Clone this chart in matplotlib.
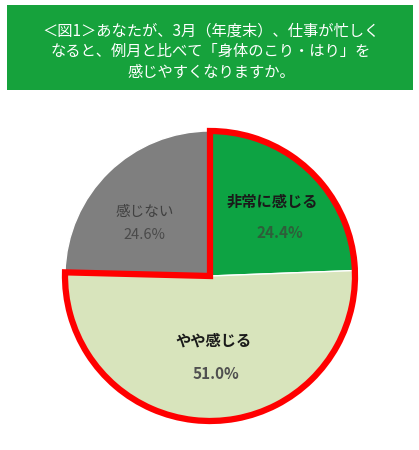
import numpy as np
import matplotlib.pyplot as plt
from matplotlib.patches import Wedge, Rectangle

plt.rcParams['font.family'] = ['Noto Sans CJK JP', 'DejaVu Sans']

title_lines = ['＜図1＞あなたが、3月（年度末）、仕事が忙しく',
               'なると、例月と比べて「身体のこり・はり」を',
               '感じやすくなりますか。']
labels = ['非常に感じる', 'やや感じる', '感じない']
values = [24.4, 51.0, 24.6]
colors = ['#0DA343', '#D8E4BC', '#7F7F7F']

W, H = 419, 450
fig = plt.figure(figsize=(W / 100, H / 100), dpi=100)
ax = fig.add_axes([0, 0, 1, 1])

# title box
ax.add_patch(Rectangle((7, H - 90), 406, 85, fc='#16A23C', ec='none'))
for i, line in enumerate(title_lines):
    ax.text(211, H - 31 - i * 20.5, line, color='white', fontsize=11,
            ha='center', va='center')

cx, cy, r = 210, H - 276, 145
ax.pie(values, colors=colors, startangle=90, counterclock=False,
       center=(cx, cy), radius=r, frame=True,
       wedgeprops=dict(edgecolor='white', linewidth=1))
ax.set_xlim(0, W)
ax.set_ylim(0, H)
ax.set_aspect('equal')
ax.axis('off')

# red outline around the "感じる" slices
gray_end = 90 + values[2] * 3.6
ax.add_patch(Wedge((cx, cy), r, gray_end, 450, fill=False,
                   ec='#FF0000', lw=4.5, joinstyle='miter'))

ax.text(272, H - 202, labels[0], fontsize=11, fontweight='bold', color='#1A1A1A', ha='center', va='center')
ax.text(280, H - 233, f'{values[0]:.1f}%', fontsize=11, fontweight='bold', color='#2E5E3A', ha='center', va='center')
ax.text(145, H - 212, labels[2], fontsize=10.5, color='#404040', ha='center', va='center')
ax.text(144, H - 235, f'{values[2]:.1f}%', fontsize=10.5, color='#4A4A4A', ha='center', va='center')
ax.text(214, H - 341, labels[1], fontsize=11, fontweight='bold', color='#1A1A1A', ha='center', va='center')
ax.text(216, H - 374, f'{values[1]:.1f}%', fontsize=11, fontweight='bold', color='#505050', ha='center', va='center')

fig.savefig('out.png', dpi=100)
